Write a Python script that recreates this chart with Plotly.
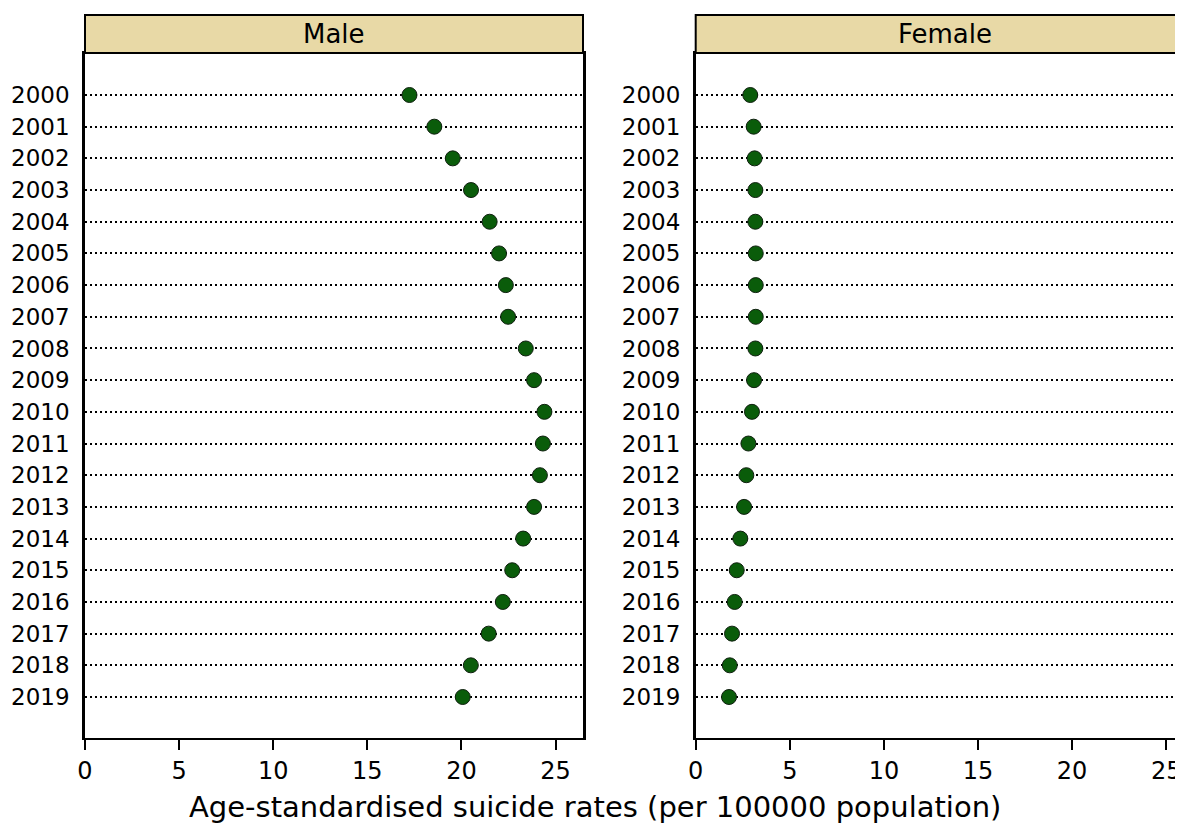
import plotly.graph_objects as go

years = ["2000", "2001", "2002", "2003", "2004", "2005", "2006", "2007", "2008", "2009",
         "2010", "2011", "2012", "2013", "2014", "2015", "2016", "2017", "2018", "2019"]
male = [17.24, 18.56, 19.54, 20.51, 21.5, 22.0, 22.36, 22.48, 23.42, 23.86,
        24.41, 24.33, 24.17, 23.86, 23.28, 22.7, 22.2, 21.45, 20.5, 20.07]
female = [2.90, 3.08, 3.13, 3.17, 3.17, 3.19, 3.19, 3.19, 3.17, 3.10,
          2.99, 2.80, 2.69, 2.57, 2.37, 2.18, 2.07, 1.93, 1.81, 1.77]
panels = ["Male", "Female"]
x_ticks = [0, 5, 10, 15, 20, 25]
x_title = "Age-standardised suicide rates (per 100000 population)"

# page is shown with an 8px body margin, so the figure is 8px smaller and offset
OFF = 8
PAGE_W, PAGE_H = 1183, 825
W, H = PAGE_W - OFF, PAGE_H - OFF
FONT = "DejaVu Sans, Liberation Sans, Arial, sans-serif"
STRIP = "#E8D9A6"
GREEN = "#0A5C0A"

# pixel layout (page coordinates)
male_px = (85, 583)
female_px = (695.7, 1183)
plot_top, plot_bot = 53, 738
strip_top = 15

def px_x(v):
    return (v - OFF) / W

def px_y(v):
    return 1 - (v - OFF) / H

mk = dict(size=15, color=GREEN, line=dict(color="#102010", width=1))
fig = go.Figure()
fig.add_trace(go.Scatter(x=male, y=years, mode="markers", xaxis="x", yaxis="y",
                         marker=mk, showlegend=False))
fig.add_trace(go.Scatter(x=female, y=years, mode="markers", xaxis="x2", yaxis="y2",
                         marker=mk, showlegend=False))

scale = (male_px[1] - male_px[0]) / 26.46
male_range = [0, 26.46]
female_range = [0, (female_px[1] - female_px[0]) / scale]

row_px = (697 - 95) / 19
y_range = [19 + (plot_bot - 697) / row_px, -(95 - plot_top) / row_px]

xcommon = dict(tickvals=x_ticks, ticks="outside", ticklen=10, tickwidth=1.5, tickcolor="black",
               showline=True, linecolor="black", linewidth=2, showgrid=False, zeroline=False,
               automargin=False, ticklabelstandoff=0,
               tickfont=dict(family=FONT, size=24, color="black"), mirror=True)
ycommon = dict(type="category", categoryorder="array", categoryarray=years, range=y_range,
               ticks="", showline=True, linecolor="black", linewidth=2.5,
               showgrid=True, gridcolor="black", gridwidth=2, griddash="2px,3px",
               zeroline=False, ticklabelstandoff=8, automargin=False,
               tickfont=dict(family=FONT, size=23, color="black"))

fig.update_layout(
    width=W, height=H,
    margin=dict(l=0, r=0, t=0, b=0, autoexpand=False),
    paper_bgcolor="white", plot_bgcolor="white",
    xaxis=dict(domain=[px_x(male_px[0]), px_x(male_px[1])], range=male_range, anchor="y", **xcommon),
    yaxis=dict(domain=[px_y(plot_bot), px_y(plot_top)], anchor="x", mirror=True, **ycommon),
    xaxis2=dict(domain=[px_x(female_px[0]), 1.0], range=female_range, anchor="y2", **xcommon),
    yaxis2=dict(domain=[px_y(plot_bot), px_y(plot_top)], anchor="x2", mirror=False, **ycommon),
)

for name, (a, b) in zip(panels, [male_px, (female_px[0], female_px[0] + (male_px[1] - male_px[0]))]):
    fig.add_shape(type="rect", xref="paper", yref="paper",
                  x0=px_x(a), x1=px_x(b), y0=px_y(plot_top), y1=px_y(strip_top),
                  fillcolor=STRIP, line=dict(color="black", width=2), layer="above")
    fig.add_annotation(text=name, xref="paper", yref="paper", x=px_x((a + b) / 2),
                       y=px_y((plot_top + strip_top) / 2), showarrow=False,
                       xanchor="center", yanchor="middle",
                       font=dict(family=FONT, size=26, color="black"))

fig.add_annotation(text=x_title, xref="paper", yref="paper", x=px_x(595), y=0,
                   showarrow=False, xanchor="center", yanchor="bottom", borderpad=0,
                   font=dict(family=FONT, size=29, color="black"))

fig.write_html("out.html")
